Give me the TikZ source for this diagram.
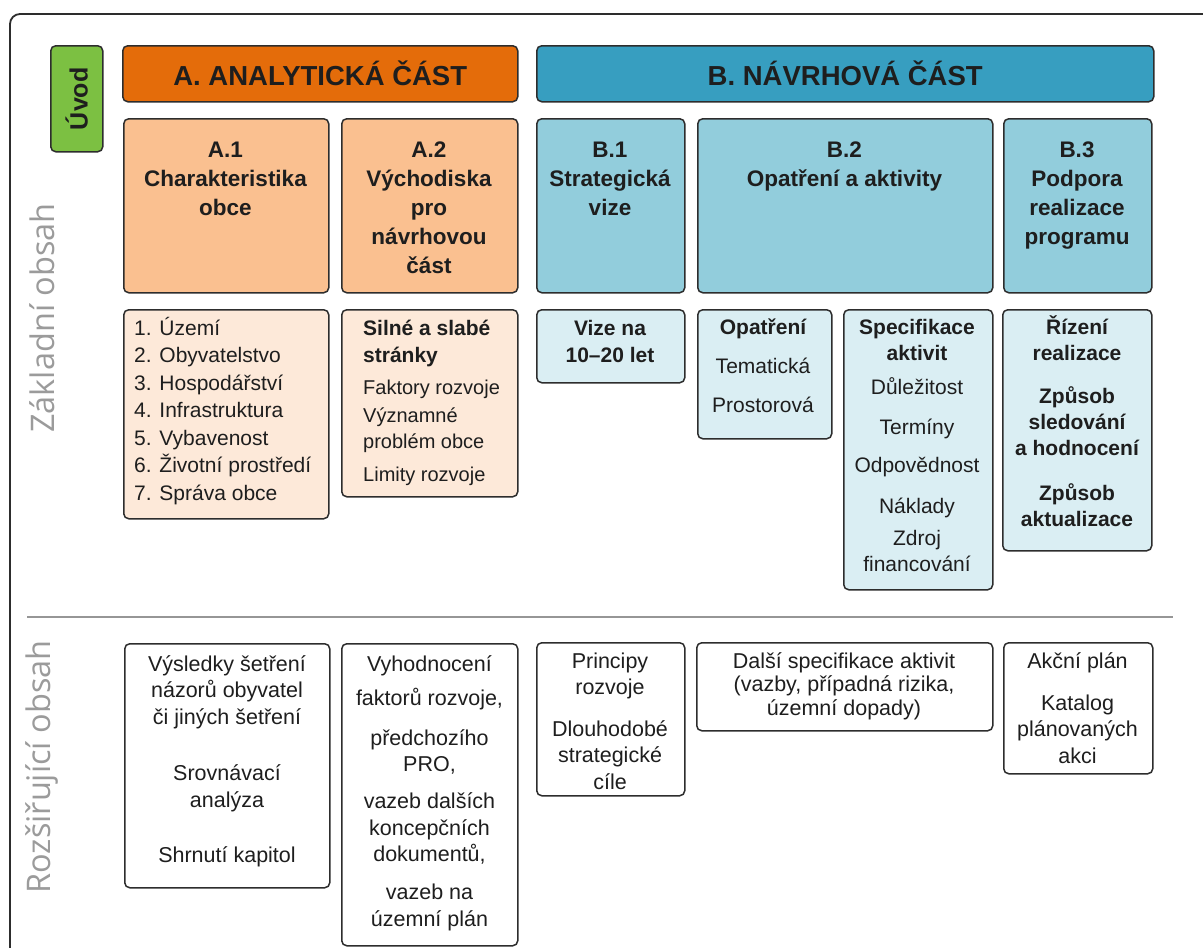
\documentclass[tikz,border=0pt]{standalone}
\usepackage{fontspec}
\setmainfont{Liberation Sans}
\newfontfamily\sidefont{Open Sans}
\definecolor{uvodgreen}{RGB}{124,192,66}
\definecolor{aorange}{RGB}{228,108,10}
\definecolor{bteal}{RGB}{55,158,192}
\definecolor{alight}{RGB}{250,192,144}
\definecolor{blight}{RGB}{146,205,220}
\definecolor{apale}{RGB}{253,233,217}
\definecolor{bpale}{RGB}{218,238,243}
\definecolor{edge}{RGB}{45,45,45}
\definecolor{sidegray}{RGB}{155,155,155}
\definecolor{sepgray}{RGB}{150,150,150}
\definecolor{ink}{RGB}{30,30,30}
\newcommand\tcell[2][c]{\begin{tabular}[t]{@{}#1@{}}#2\end{tabular}}
\newcommand\titlefont{\fontsize{27.5}{30}\selectfont\bfseries}
\newcommand\hdfont{\fontsize{22.5}{29}\selectfont\bfseries}
\newcommand\rowfont{\fontsize{21}{27.5}\selectfont}
\newcommand\rowfontb{\fontsize{21}{26}\selectfont}
\newcommand\extfont{\fontsize{21.5}{26.5}\selectfont}
\newcommand\abox[6]{\node[box, fill=#6, anchor=north west, minimum width={#4pt-#2pt}, minimum height={#5pt-#3pt}] (#1) at (#2,#3) {};}
\tikzset{
  box/.style={draw=edge, line width=1.5pt, rounded corners=5pt, inner sep=0pt},
  txt/.style={anchor=base, inner sep=0pt, text=ink},
}
\begin{document}
\begin{tikzpicture}[x=1pt,y=-1pt]
\useasboundingbox (0,0) rectangle (1203,948);
\fill[white] (0,0) rectangle (1203,948);
\begin{scope}
\clip (0,0) rectangle (1203,948);
\draw[edge, line width=1.8pt, rounded corners=10pt] (10,980) -- (10,14) -- (1230,14);
\end{scope}

% side labels
\node[rotate=90, inner sep=0pt, text=sidegray, font=\sidefont\fontsize{32.5}{36}\selectfont] (zakl) at (42,318) {Základní obsah};
\node[rotate=90, inner sep=0pt, text=sidegray, font=\sidefont\fontsize{32.5}{36}\selectfont] (rozs) at (42,767) {Rozšiřující obsah};

% separator
\coordinate (sepL) at (27,617);
\coordinate (sepR) at (1173,617);
\draw[sepgray, line width=1.3pt] (sepL) -- (sepR);

% Uvod
\abox{uvod}{50}{45}{102}{151}{uvodgreen}
\node[rotate=90, inner sep=0pt, text=ink, font=\fontsize{25}{28}\selectfont\bfseries] (uvodt) at (uvod.center) {Úvod};

% titles
\node[box, fill=aorange, anchor=north west, minimum width=395pt, minimum height=56pt, font=\titlefont, text=ink] (atitle) at (122,45) {A. ANALYTICKÁ ČÁST};
\node[box, fill=bteal, anchor=north west, minimum width=617pt, minimum height=56pt, font=\titlefont, text=ink] (btitle) at (536,45) {B. NÁVRHOVÁ ČÁST};

% row 1
\abox{a1}{123}{118}{328}{292}{alight}
\abox{a2}{341}{118}{517}{292}{alight}
\abox{b1}{536}{118}{684}{292}{blight}
\abox{b2}{697}{118}{992}{292}{blight}
\abox{b3}{1003}{118}{1151}{292}{blight}
\node[txt, font=\hdfont] (a1t) at (225.5,157) {\tcell{A.1\\Charakteristika\\obce}};
\node[txt, font=\hdfont] (a2t) at (429,157) {\tcell{A.2\\Východiska\\pro\\návrhovou\\část}};
\node[txt, font=\hdfont] (b1t) at (610,157) {\tcell{B.1\\Strategická\\vize}};
\node[txt, font=\hdfont] (b2t) at (844.5,157) {\tcell{B.2\\Opatření a aktivity}};
\node[txt, font=\hdfont] (b3t) at (1077,157) {\tcell{B.3\\Podpora\\realizace\\programu}};

% row 2
\abox{a1r}{123}{309}{328}{518}{apale}
\abox{a2r}{341}{309}{517}{496}{apale}
\abox{b1r}{536}{309}{684}{382}{bpale}
\abox{b2ar}{697}{309}{831}{438}{bpale}
\abox{b2br}{843}{309}{992}{589}{bpale}
\abox{b3r}{1002}{309}{1151}{550}{bpale}
\node[txt, anchor=base west, font=\rowfont] (a1rt) at (134,335) {\tcell[l]{1. Území\\2. Obyvatelstvo\\3. Hospodářství\\4. Infrastruktura\\5. Vybavenost\\6. Životní prostředí\\7. Správa obce}};
\node[txt, anchor=base west, font=\rowfont] (a2rt) at (363,335) {\tcell[l]{\bfseries Silné a slabé\\\bfseries stránky\\[4.5pt]{\fontsize{20}{24}\selectfont Faktory rozvoje}\\{\fontsize{20}{24}\selectfont Významné}\\[-1pt]{\fontsize{20}{24}\selectfont problém obce}\\[5.5pt]{\fontsize{20}{24}\selectfont Limity rozvoje}}};
\node[txt, font=\rowfont\bfseries] (b1rt) at (610,335) {\tcell{Vize na\\10–20 let}};
\node[txt, font=\rowfont] (b2art) at (763,334) {\tcell{\bfseries Opatření\\[11.5pt]Tematická\\[11.5pt]Prostorová}};
\node[txt, font=\rowfontb] (b2brt) at (917,334) {\tcell{\bfseries Specifikace\\\bfseries aktivit\\[8pt]Důležitost\\[14pt]Termíny\\[12pt]Odpovědnost\\[15pt]Náklady\\[6pt]Zdroj\\financování}};
\node[txt, font=\rowfontb\bfseries] (b3rt) at (1077,334) {\tcell{Řízení\\realizace\\[17pt]Způsob\\sledování\\a hodnocení\\[19pt]Způsob\\aktualizace}};

% row 3
\abox{r1}{124}{643}{329}{887}{white}
\abox{r2}{341}{643}{517}{945}{white}
\abox{r3}{536}{642}{684}{795}{white}
\abox{r4}{696}{642}{992}{730}{white}
\abox{r5}{1003}{642}{1152}{773}{white}
\node[txt, font=\extfont] (r1t) at (227,671) {\tcell{Výsledky šetření\\názorů obyvatel\\či jiných šetření\\[30pt]Srovnávací\\analýza\\[28.5pt]Shrnutí kapitol}};
\node[txt, font=\extfont] (r2t) at (429.5,671) {\tcell{Vyhodnocení\\[7.5pt]faktorů rozvoje,\\[13.5pt]předchozího\\PRO,\\[10.5pt]vazeb dalších\\koncepčních\\dokumentů,\\[11.5pt]vazeb na\\územní plán}};
\node[txt, font=\extfont] (r3t) at (610,668) {\tcell{Principy\\rozvoje\\[15pt]Dlouhodobé\\strategické\\cíle}};
\node[txt, font=\fontsize{21.5}{23.5}\selectfont] (r4t) at (844,668) {\tcell{Další specifikace aktivit\\(vazby, případná rizika,\\územní dopady)}};
\node[txt, font=\extfont] (r5t) at (1077.5,668) {\tcell{Akční plán\\[15.5pt]Katalog\\plánovaných\\akci}};
\end{tikzpicture}
\end{document}
